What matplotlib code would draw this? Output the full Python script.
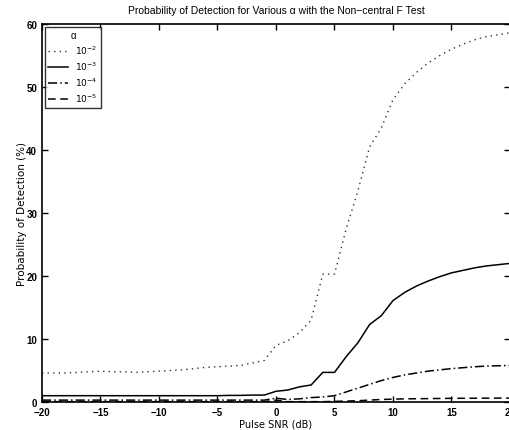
import matplotlib
matplotlib.use("Agg")
import matplotlib.pyplot as plt
import numpy as np

plt.rcParams['font.family'] = ['Liberation Sans', 'DejaVu Sans']

snr = list(range(-20, 21))

pd_1e2 = [4.6, 4.6, 4.6, 4.7, 4.8, 4.9, 4.8, 4.8, 4.7, 4.8,
          4.9, 5.0, 5.1, 5.3, 5.5, 5.6, 5.7, 5.8, 6.2, 6.6,
          9.0, 9.7, 11.0, 13.0, 20.3, 20.3, 27.5, 33.5, 40.5, 43.5,
          48.0, 50.5, 52.3, 53.8, 55.0, 56.0, 56.8, 57.5, 58.0, 58.3, 58.6]
pd_1e3 = [1.0, 1.0, 1.0, 1.0, 1.0, 1.0, 1.0, 1.0, 1.0, 1.0,
          1.0, 1.0, 1.0, 1.0, 1.0, 1.0, 1.05, 1.05, 1.1, 1.1,
          1.7, 1.9, 2.4, 2.7, 4.7, 4.7, 7.2, 9.4, 12.3, 13.7,
          16.1, 17.4, 18.4, 19.2, 19.9, 20.5, 20.9, 21.3, 21.6, 21.8, 22.0]
pd_1e4 = [0.3, 0.3, 0.3, 0.3, 0.3, 0.3, 0.3, 0.3, 0.3, 0.3,
          0.3, 0.3, 0.3, 0.3, 0.3, 0.3, 0.3, 0.3, 0.3, 0.3,
          0.6, 0.4, 0.5, 0.7, 0.8, 1.0, 1.6, 2.2, 2.8, 3.4,
          3.9, 4.3, 4.6, 4.9, 5.1, 5.3, 5.45, 5.6, 5.7, 5.75, 5.8]
pd_1e5 = [0.05, 0.05, 0.05, 0.05, 0.05, 0.05, 0.05, 0.05, 0.05, 0.05,
          0.05, 0.05, 0.05, 0.05, 0.05, 0.05, 0.05, 0.05, 0.05, 0.05,
          0.3, 0.05, 0.05, 0.05, 0.05, 0.1, 0.15, 0.2, 0.3, 0.4,
          0.45, 0.5, 0.52, 0.54, 0.56, 0.58, 0.59, 0.6, 0.61, 0.62, 0.62]

labels = ['$10^{-2}$', '$10^{-3}$', '$10^{-4}$', '$10^{-5}$']
xticks = [-20, -15, -10, -5, 0, 5, 10, 15, 20]
yticks = [0, 10, 20, 30, 40, 50, 60]

fig = plt.figure(figsize=(5.10, 4.31), dpi=100)
ax = fig.add_axes([42/510, 1 - 403/431, 1 - 42/510, (403 - 25)/431])

ax.plot(snr, pd_1e2, color='#333333', linestyle=(0, (1, 3)), linewidth=1.0, label=labels[0])
ax.plot(snr, pd_1e3, color='black', linestyle='-', linewidth=1.1, label=labels[1])
ax.plot(snr, pd_1e4, color='black', linestyle=(0, (6, 2, 1, 2)), linewidth=1.1, label=labels[2])
ax.plot(snr, pd_1e5, color='black', linestyle=(0, (5, 3)), linewidth=1.1, label=labels[3])

ax.set_xlim(-20, 20)
ax.set_ylim(0, 60)
ax.set_xticks(xticks)
ax.set_yticks(yticks)
ax.tick_params(direction='in', top=True, right=True, length=4, width=1.0,
               labelsize=7)
for lbl in ax.get_xticklabels() + ax.get_yticklabels():
    lbl.set_fontweight('bold')
for sp in ax.spines.values():
    sp.set_linewidth(1.2)

ax.set_title('Probability of Detection for Various α with the Non\u2212central F Test',
             fontsize=7.5, pad=8)
ax.set_xlabel('Pulse SNR (dB)', fontsize=7, family=['DejaVu Sans'], labelpad=1)
ax.set_ylabel('Probability of Detection (%)', fontsize=7.5, family=['DejaVu Sans'])
ax.yaxis.set_label_coords(-0.032, 0.5)

leg = ax.legend(title='α', loc='upper left', fontsize=6.5, title_fontsize=7,
                handlelength=2.2, frameon=True, fancybox=False,
                edgecolor='black', borderaxespad=0.3, labelspacing=0.4,
                bbox_to_anchor=(0.0, 1.0))
leg.get_frame().set_linewidth(1.0)

fig.savefig('out.png', dpi=100)
